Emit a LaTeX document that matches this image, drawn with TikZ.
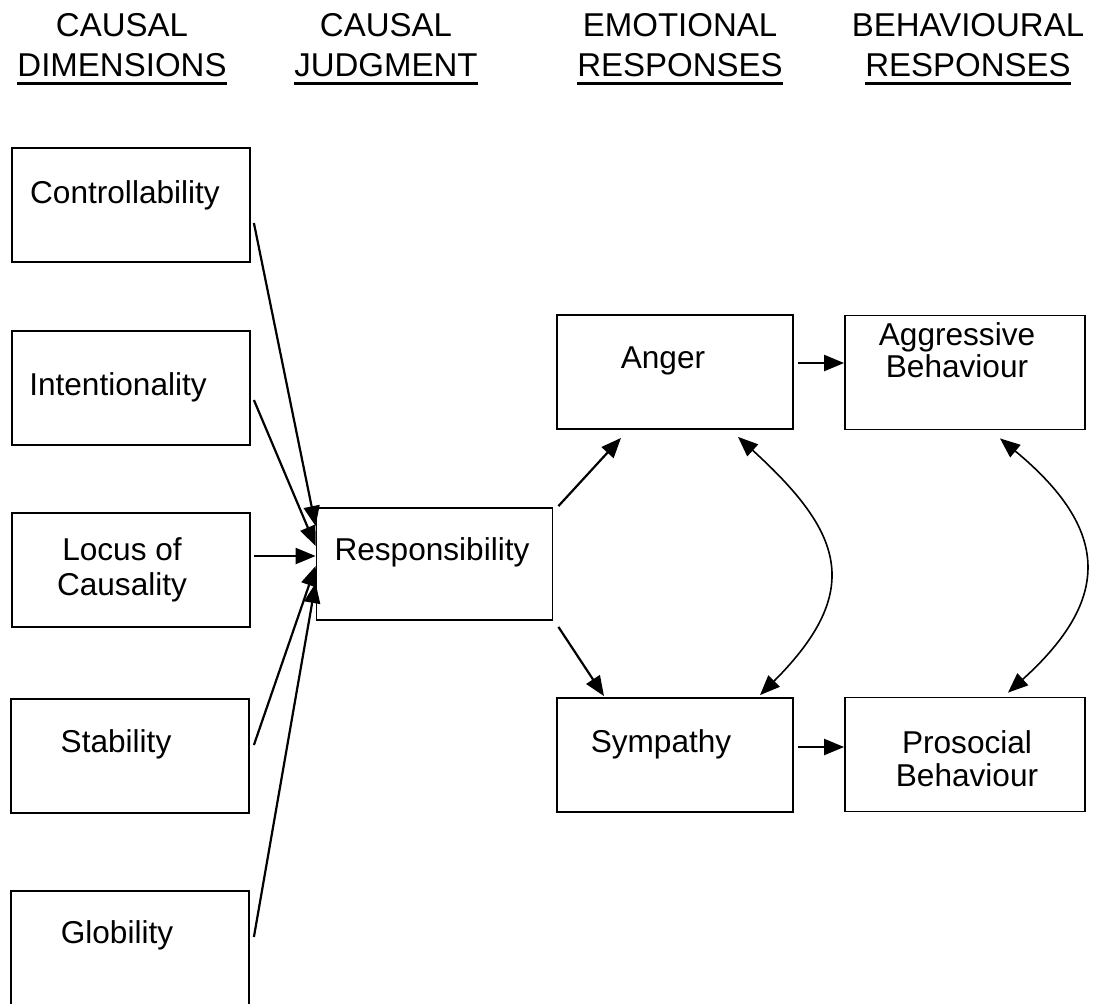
\documentclass[tikz,border=0pt]{standalone}
\usepackage{fontspec}
\setmainfont{Liberation Sans}
\usepackage{tikz}
\usetikzlibrary{arrows.meta, positioning, calc}

\newcommand{\ulhead}[1]{\setbox0\hbox{#1}\rlap{\rule[-4.5pt]{\wd0}{1.5pt}}\box0}

\begin{document}
\begin{tikzpicture}[
  x=0.5pt, y=-0.5pt,
  box/.style={draw=black, line width=0.9pt, minimum width=118pt, minimum height=57pt, inner sep=0pt},
  lbl/.style={anchor=base, align=center, inner sep=0pt, font=\fontsize{15.8pt}{16.5pt}\selectfont},
  hdr/.style={anchor=base, align=center, inner sep=0pt, font=\fontsize{16.5pt}{20pt}\selectfont},
  arr/.style={-{Triangle[length=10pt, width=8pt]}, line width=1.1pt},
  twoway/.style={{Triangle[length=10pt, width=8pt]}-{Triangle[length=10pt, width=8pt]}, line width=0.8pt}
]
\useasboundingbox (0,0) rectangle (1107,1003);

% column headings
\node[hdr] (h1) at (122,76) {CAUSAL\\\ulhead{DIMENSIONS}};
\node[hdr] (h2) at (386,76) {CAUSAL\\\ulhead{JUDGMENT}};
\node[hdr] (h3) at (680,76) {EMOTIONAL\\\ulhead{RESPONSES}};
\node[hdr] (h4) at (968,76) {BEHAVIOURAL\\\ulhead{RESPONSES}};

% boxes
\node[box, minimum width=119pt] (ctrl) at (131,205) {};
\node[box, minimum width=119pt] (intent) at (131,388) {};
\node[box, minimum width=119pt] (locus) at (131,570) {};
\node[box, minimum width=119pt] (stab) at (130,756) {};
\node[box, minimum width=119pt] (glob) at (130,948) {};
\node[box, minimum height=56pt] (resp) at (434.5,564) {};
\node[box] (anger) at (675,372) {};
\node[box, minimum width=120pt] (aggr) at (965,372.5) {};
\node[box] (symp) at (675,755) {};
\node[box, minimum width=120pt] (pros) at (965,754.5) {};

% box texts
\node[lbl] (ctrl-t) at (125,203) {Controllability};
\node[lbl] (intent-t) at (118,395) {Intentionality};
\node[lbl, font=\fontsize{15.8pt}{17.5pt}\selectfont] (locus-t) at (122,595) {Locus of\\Causality};
\node[lbl] (stab-t) at (116,752) {Stability};
\node[lbl] (glob-t) at (117,943) {Globility};
\node[lbl] (resp-t) at (432,560) {Responsibility};
\node[lbl] (anger-t) at (663,368) {Anger};
\node[lbl, font=\fontsize{15.8pt}{16pt}\selectfont] (aggr-t) at (957,377) {Aggressive\\Behaviour};
\node[lbl] (symp-t) at (661,752) {Sympathy};
\node[lbl] (pros-t) at (967,786) {Prosocial\\Behaviour};

% dimensions -> responsibility
\draw[arr] ([shift={(3,18)}]ctrl.east) -- ([shift={(0,-38)}]resp.west);
\draw[arr] ([shift={(3,12)}]intent.east) -- ([shift={(0,-18)}]resp.west);
\draw[arr] ([shift={(3,-14)}]locus.east) -- ([shift={(0,-8)}]resp.west);
\draw[arr] ([shift={(4,-11)}]stab.east) -- ([shift={(0,2)}]resp.west);
\draw[arr] ([shift={(4,-11)}]glob.east) -- ([shift={(0,19)}]resp.west);

% responsibility -> emotions
\draw[arr] ([shift={(5,-1)}]resp.north east) -- ([shift={(-54,8)}]anger.south);
\draw[arr] ([shift={(5,6)}]resp.south east) -- ([shift={(-71,-1)}]symp.north);

% emotions -> behaviour
\draw[arr] ([shift={(4,-9)}]anger.east) -- ([shift={(0,-9.5)}]aggr.west);
\draw[arr] ([shift={(4,-8)}]symp.east) -- ([shift={(0,-7.5)}]pros.west);

% two-way links
\draw[twoway] ([shift={(63,7)}]anger.south) .. controls +(103,94) and +(106,-106) .. ([shift={(85,-2)}]symp.north);
\draw[twoway] ([shift={(35,8)}]aggr.south) .. controls +(111,92) and +(103,-93) .. ([shift={(43,-4)}]pros.north);
\end{tikzpicture}
\end{document}
